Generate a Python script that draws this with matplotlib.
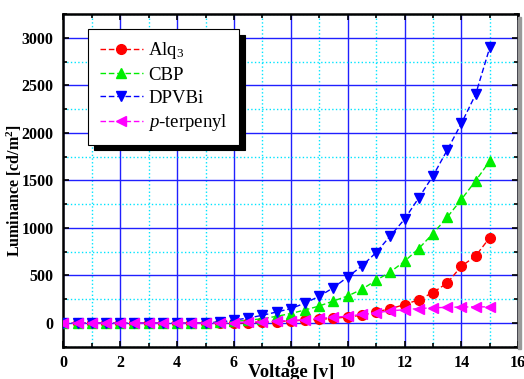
import numpy as np
import matplotlib
matplotlib.use("Agg")
import matplotlib.pyplot as plt
from matplotlib.ticker import MultipleLocator
from matplotlib.patches import Rectangle

plt.rcParams['font.family'] = ['Liberation Serif', 'DejaVu Serif']
plt.rcParams['mathtext.fontset'] = 'custom'
plt.rcParams['mathtext.rm'] = 'Liberation Serif'
plt.rcParams['mathtext.it'] = 'Liberation Serif:italic'
plt.rcParams['mathtext.bf'] = 'Liberation Serif:bold'

voltage = np.arange(0, 15.01, 0.5)
alq3 = [0, 0, 0, 0, 0, 0, 0, 0, 0, 0, 0, 0, 0, 3, 8, 14, 22, 30, 38, 50, 63, 82,
        116, 151, 193, 246, 320, 421, 597, 705, 899]
cbp = [0, 0, 0, 0, 0, 0, 0, 0, 0, 0, 0, 8, 18, 28, 46, 70, 100, 137, 179, 232, 284, 355,
       449, 537, 649, 783, 941, 1112, 1300, 1495, 1705]
dpvbi = [0, 0, 0, 0, 0, 0, 0, 0, 0, 0, 3, 11, 30, 53, 81, 116, 151, 210, 281, 372, 484, 600,
         741, 916, 1092, 1316, 1547, 1818, 2099, 2404, 2899]
terpenyl = [0, 0, 0, 0, 0, 0, 0, 0, 0, 0, 0, 0, 5, 10, 15, 20, 26, 36, 48, 60, 72, 90,
            108, 128, 140, 152, 160, 165, 168, 170, 170]

labels = ['Alq$_3$', 'CBP', 'DPVBi', '$p$-terpenyl']
colors = ['#ff0000', '#00ee00', '#0000ff', '#ff00ff']
markers = ['o', '^', 'v', '<']

fig = plt.figure(figsize=(5.24, 3.79), dpi=100)
ax = fig.add_axes([0.121, 0.085, 0.868, 0.878])

# grey shadow at right of axes
fig.patches.append(Rectangle((0.989, 0.078), 0.006, 0.878, transform=fig.transFigure,
                             color='#999999', zorder=0))

for y, lab, c, m in zip([alq3, cbp, dpvbi, terpenyl], labels, colors, markers):
    ax.plot(voltage, y, color=c, marker=m, markersize=7, linestyle=(0, (4, 2)),
            linewidth=1.0, label=lab, zorder=3)

ax.set_xlim(0, 16)
ax.set_ylim(-250, 3250)
ax.xaxis.set_major_locator(MultipleLocator(2))
ax.xaxis.set_minor_locator(MultipleLocator(1))
ax.yaxis.set_major_locator(MultipleLocator(500))
ax.yaxis.set_minor_locator(MultipleLocator(250))

ax.grid(which='major', color='#2020ff', linestyle='-', linewidth=1.0, zorder=1)
ax.grid(which='minor', color='#00e5ff', linestyle=':', linewidth=1.0, zorder=1)
ax.set_axisbelow(True)

for s in ax.spines.values():
    s.set_linewidth(1.8)
    s.set_color('black')

ax.tick_params(which='both', direction='in', top=True, right=True, width=1.2)
ax.tick_params(which='major', length=4)
ax.tick_params(which='minor', length=3)
ax.tick_params(axis='both', labelsize=11.5)
ax.tick_params(axis='y', pad=7)
ax.tick_params(axis='x', pad=6)
for t in ax.get_xticklabels() + ax.get_yticklabels():
    t.set_fontweight('bold')

ax.set_xlabel('Voltage [v]', fontsize=13.5, fontweight='bold', labelpad=-5)
ax.set_ylabel('Luminance [cd/m$^\\mathbf{2}$]', fontsize=11.5, fontweight='bold')
ax.yaxis.set_label_coords(-0.086, 0.47)

leg = ax.legend(loc='upper left', bbox_to_anchor=(0.055, 0.955), fontsize=13.5,
                frameon=True, fancybox=False, edgecolor='black', framealpha=1,
                shadow={'color': 'black', 'alpha': 1.0, 'ox': 4, 'oy': -4},
                labelspacing=0.3, handlelength=2.3, borderpad=0.6, handletextpad=0.3,
                borderaxespad=0)
leg.get_frame().set_linewidth(0.8)
leg.set_zorder(5)

fig.savefig('out.png', dpi=100)
